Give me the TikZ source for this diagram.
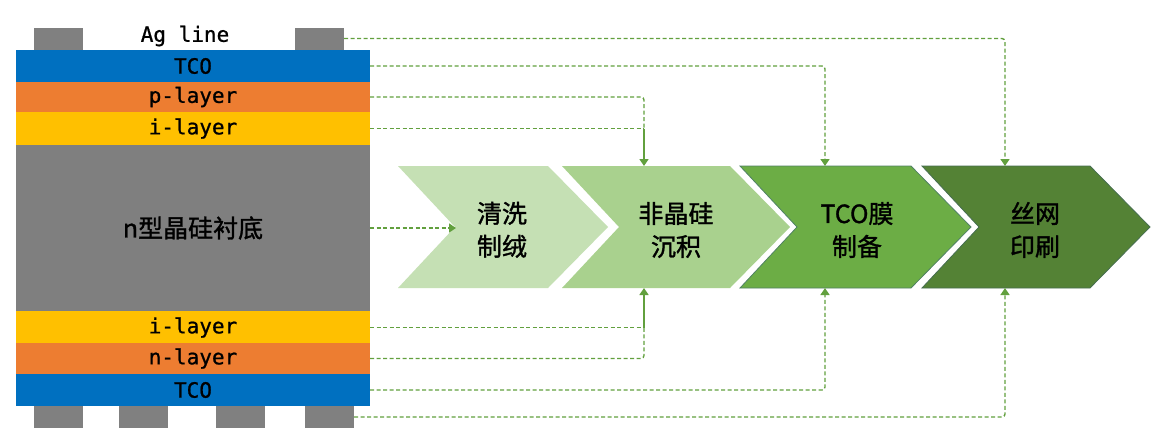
\documentclass[tikz,border=0pt]{standalone}
\usepackage{fontspec}
\setmainfont{Noto Sans CJK SC}
\newfontfamily\cjkb[FakeBold=1.3]{Noto Sans CJK SC}
\newfontfamily\monof[FakeBold=0.9]{DejaVu Sans Mono}
\usetikzlibrary{arrows.meta}
\definecolor{tcoblue}{HTML}{0070C0}
\definecolor{orangel}{HTML}{ED7D31}
\definecolor{yellowl}{HTML}{FFC000}
\definecolor{grayl}{HTML}{7F7F7F}
\definecolor{padgray}{HTML}{808080}
\definecolor{chA}{HTML}{C5E0B4}
\definecolor{chB}{HTML}{A9D18E}
\definecolor{chC}{HTML}{6CAD45}
\definecolor{chD}{HTML}{548235}
\definecolor{lnk}{HTML}{62A03E}
\tikzset{
  layer/.style={rectangle, inner sep=0pt, minimum width=354pt, font=\monof\fontsize{21}{21}\selectfont, text=black},
  pad/.style={rectangle, fill=padgray, inner sep=0pt, minimum width=49pt, minimum height=22pt},
  link/.style={draw=lnk, line width=1.4pt, dash pattern=on 4pt off 2.5pt, rounded corners=3pt},
  solidlink/.style={draw=lnk, line width=1.6pt},
  tip/.style={-{Triangle[width=9pt,length=7pt]}},
  chevtext/.style={align=center, font=\cjkb\fontsize{25}{33}\selectfont, text=black, inner sep=0pt},
}
\newcommand\mychev[4]{%
  \fill[#3,#4] (#1,166) -- ++(#2,0) -- ++(60,61) -- ++(-60,61) -- ++(-#2,0) -- ++(57,-61) -- cycle;}
\begin{document}
\begin{tikzpicture}[x=1pt,y=-1pt]
\useasboundingbox (0,0) rectangle (1168,434);
\fill[white] (0,0) rectangle (1168,434);
% stack
\node[pad] (agt1) at (58.5,38.5) {};
\node[pad] (agt2) at (319.5,38.5) {};
\node[font=\monof\fontsize{21}{21}\selectfont] (agl) at (185,36) {Ag line};
\node[layer, fill=tcoblue, minimum height=32pt] (tco1) at (193,66) {\raisebox{-2pt}{TCO}};
\node[layer, fill=orangel, minimum height=30pt] (pl) at (193,97) {\raisebox{-2pt}{p-layer}};
\node[layer, fill=yellowl, minimum height=33pt] (il1) at (193,128.5) {\raisebox{-2pt}{i-layer}};
\node[layer, fill=grayl, minimum height=166pt, font=\cjkb\fontsize{25}{25}\selectfont] (sub) at (193,228) {n型晶硅衬底};
\node[layer, fill=yellowl, minimum height=33pt] (il2) at (193,327.5) {\raisebox{-2pt}{i-layer}};
\node[layer, fill=orangel, minimum height=31pt] (nl) at (193,358.5) {\raisebox{-2pt}{n-layer}};
\node[layer, fill=tcoblue, minimum height=32pt] (tco2) at (193,390) {\raisebox{-2pt}{TCO}};
\node[pad] (agb1) at (58.5,417) {};
\node[pad] (agb2) at (143,417) {};
\node[pad] (agb3) at (240.5,417) {};
\node[pad] (agb4) at (329.5,417) {};
% chevrons
\mychev{398}{150}{chA}{}
\mychev{562}{168}{chB}{}
\mychev{740}{171}{chC}{draw={rgb,255:red,80;green,130;blue,100},line width=0.8pt}
\mychev{922}{168}{chD}{draw={rgb,255:red,70;green,110;blue,80},line width=0.8pt}
\node[chevtext] (s1) at (502,230) {清洗\\制绒};
\node[chevtext] (s2) at (676,230) {非晶硅\\沉积};
\node[chevtext] (s3) at (857,230) {TCO膜\\制备};
\node[chevtext] (s4) at (1035,230) {丝网\\印刷};
% anchor coordinates
\coordinate (c1in) at (456,228);
\coordinate (c2top) at (644,166);
\coordinate (c2bot) at (644,288);
\coordinate (c3top) at (825,166);
\coordinate (c3bot) at (825,288);
\coordinate (c4top) at (1005,166);
\coordinate (c4bot) at (1005,288);
\coordinate (jtop) at (644,128.5);
\coordinate (jbot) at (644,327.5);
% connectors
\draw[link, tip] (sub.east) -- (c1in);
\draw[link] (pl.east) -| (jtop);
\draw[link] (il1.east) -- (jtop);
\draw[solidlink, tip] (jtop) -- (c2top);
\draw[link] (nl.east) -| (jbot);
\draw[link] (il2.east) -- (jbot);
\draw[solidlink, tip] (jbot) -- (c2bot);
\draw[link, tip] (tco1.east) -| (c3top);
\draw[link, tip] (tco2.east) -| (c3bot);
\draw[link, tip] (agt2.east) -| (c4top);
\draw[link, tip] (agb4.east) -| (c4bot);
\end{tikzpicture}
\end{document}
